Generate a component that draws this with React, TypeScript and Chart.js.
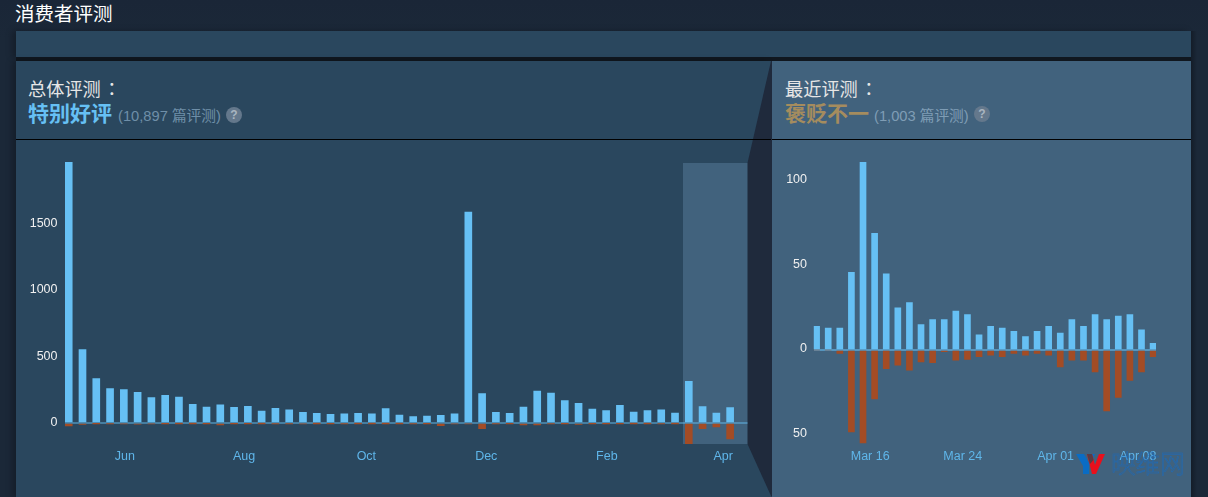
import React, { useEffect, useRef } from "react";
import { Chart, registerables } from "chart.js";

Chart.register(...registerables);

const overallUp = [1955, 550, 333, 258, 251, 230, 190, 207, 195, 140, 120, 137, 118, 125, 90, 110, 98, 80, 72, 65, 68, 72, 68, 108, 60, 48, 52, 57, 68, 1583, 220, 80, 72, 120, 240, 225, 168, 148, 105, 93, 133, 82, 93, 98, 75, 313, 123, 75, 115];
const overallDown = [22, 10, 2, 4, 6, 8, 6, 3, 1, 1, 2, 14, 3, 3, 1, 5, 5, 6, 1, 2, 5, 1, 1, 1, 1, 5, 3, 20, 6, 6, 42, 4, 2, 15, 15, 5, 2, 10, 3, 3, 3, 1, 1, 4, 1, 155, 42, 30, 120];
const overallTickValues = [4.08, 12.72, 21.6, 30.3, 39.05, 47.5];
const overallTickLabels = ["Jun", "Aug", "Oct", "Dec", "Feb", "Apr"];
const overallYTicks = [0, 500, 1000, 1500];

const recentUp = [14, 13, 13, 46, 111, 69, 45, 25, 28, 15, 18, 18, 23, 21, 9, 14, 13, 11, 8, 11, 14, 10, 18, 14, 21, 18, 20, 21, 12, 4];
const recentDown = [0, 0, 2, 48.5, 55, 29, 11, 9, 12, 7, 7.5, 1, 6, 5.5, 4, 3, 4, 2, 3, 2, 3, 10, 6, 6, 13, 36, 28, 18, 13, 4];
const recentTickValues = [4.62, 12.6, 20.6, 27.7];
const recentTickLabels = ["Mar 16", "Mar 24", "Apr 01", "Apr 08"];
const recentYTicks = [-50, 0, 50, 100];

const BLUE = "#66c0f4";
const RUST = "#a34c25";
const FONT = "'Liberation Sans', Arial, sans-serif";
const CJK = "'Liberation Sans', 'Noto Sans CJK SC', sans-serif";

type Cfg = {
  up: number[]; down: number[]; tickValues: number[]; tickLabels: string[]; yTicks: number[];
  xMin: number; xMax: number; yMin: number; yMax: number; barW: number; axisW: number;
  padRight: number; tickPad: number; labelOffset: number; zeroColor: string;
};

function makeChart(canvas: HTMLCanvasElement, c: Cfg) {
  const toPoints = (a: number[], sign: number) => a.map((v, i) => ({ x: i, y: sign * v }));
  return new Chart(canvas, {
    type: "bar",
    data: {
      datasets: [
        { data: toPoints(c.up, 1), backgroundColor: BLUE, barThickness: c.barW, grouped: false } as any,
        { data: toPoints(c.down, -1), backgroundColor: RUST, barThickness: c.barW, grouped: false } as any,
      ],
    },
    options: {
      animation: false,
      responsive: false,
      layout: { padding: { top: 22, right: c.padRight, bottom: 0, left: 0 } },
      plugins: { legend: { display: false }, tooltip: { enabled: false } },
      scales: {
        x: {
          type: "linear",
          offset: false,
          min: c.xMin,
          max: c.xMax,
          grid: { display: false, drawTicks: false },
          border: { display: false },
          afterBuildTicks: (s: any) => { s.ticks = c.tickValues.map((value) => ({ value })); },
          afterFit: (s: any) => { s.height = 53; },
          ticks: {
            autoSkip: false, maxRotation: 0, padding: 5, color: "#5fb6ea",
            font: { family: FONT, size: 12.5 },
            callback: (_v: any, i: number) => c.tickLabels[i],
          },
        },
        y: {
          min: c.yMin,
          max: c.yMax,
          border: { display: false },
          grid: {
            drawTicks: false,
            lineWidth: 2,
            color: (ctx: any) => (ctx.tick && ctx.tick.value === 0 ? c.zeroColor : "rgba(0,0,0,0)"),
          },
          afterBuildTicks: (s: any) => { s.ticks = c.yTicks.map((value) => ({ value })); },
          afterFit: (s: any) => { s.width = c.axisW; },
          ticks: {
            autoSkip: false, padding: c.tickPad, color: "#f0f0f0", labelOffset: c.labelOffset,
            font: { family: FONT, size: 12.5 },
            callback: (v: any) => String(Math.abs(Number(v))),
          },
        },
      },
    } as any,
  });
}

const abs = (l: number, t: number, w: number, h: number, bg?: string): React.CSSProperties => ({
  position: "absolute", left: l, top: t, width: w, height: h, background: bg,
});

function Txt(p: { l: number; t: number; size: number; color: string; bold?: boolean; children: React.ReactNode }) {
  return (
    <div style={{ position: "absolute", left: p.l, top: p.t, fontSize: p.size, lineHeight: "24px", height: 24, color: p.color, fontWeight: p.bold ? 700 : 400, fontFamily: CJK, whiteSpace: "nowrap" }}>
      {p.children}
    </div>
  );
}

function Help(p: { cx: number; cy: number }) {
  return (
    <div style={{ position: "absolute", left: p.cx - 8, top: p.cy - 8, width: 16, height: 16, borderRadius: 8, background: "#64788c", color: "#a9b5c0", fontSize: 12, fontWeight: 700, lineHeight: "16px", textAlign: "center", fontFamily: FONT }}>?</div>
  );
}

const colon = <span style={{ fontFamily: "'Noto Sans CJK TC'", marginLeft: 2 }}>：</span>;

export default function App() {
  const leftRef = useRef<HTMLCanvasElement>(null);
  const rightRef = useRef<HTMLCanvasElement>(null);

  useEffect(() => {
    const a = makeChart(leftRef.current!, {
      up: overallUp, down: overallDown, tickValues: overallTickValues, tickLabels: overallTickLabels, yTicks: overallYTicks,
      xMin: -0.27, xMax: 49.26, yMin: -157.5, yMax: 1958, barW: 7, axisW: 49, padRight: 23.5, tickPad: 7.5, labelOffset: 0,
      zeroColor: "rgba(102,192,244,0.45)",
    });
    const b = makeChart(rightRef.current!, {
      up: recentUp, down: recentDown, tickValues: recentTickValues, tickLabels: recentTickLabels, yTicks: recentYTicks,
      xMin: -0.25, xMax: 29.25, yMin: -55.6, yMax: 111.2, barW: 6, axisW: 41.7, padRight: 35, tickPad: 6.7, labelOffset: -1,
      zeroColor: "rgba(102,192,244,0.55)",
    });
    return () => { a.destroy(); b.destroy(); };
  }, []);

  return (
    <div style={{ ...abs(0, 0, 1208, 497, "#1b2838"), overflow: "hidden", fontFamily: CJK }}>
      <div style={abs(0, 0, 1208, 40, "linear-gradient(#1a2637,#1b2838)")} />
      <Txt l={15} t={2} size={19.5} color="#ffffff">消费者评测</Txt>

      <div style={{ ...abs(16, 31, 1175, 26, "#2a475e"), boxShadow: "-4px 0 6px rgba(0,0,0,0.25)" }} />
      <div style={abs(16, 57, 1175, 4, "#10171f")} />

      <div style={{ ...abs(16, 61, 755, 436, "#2a475e"), boxShadow: "-4px 0 6px rgba(0,0,0,0.25)" }} />
      <div style={abs(771, 61, 420, 436, "#41627d")} />
      <div style={{ ...abs(1191, 31, 6, 466), background: "linear-gradient(90deg,#131c28,#1b2838)" }} />

      <div style={abs(683, 163, 64.5, 281, "#41627d")} />
      <svg style={abs(700, 61, 80, 436)} width={80} height={436}>
        <polygon points="71,0 72,0 72,436 71.5,436 47.5,383 47.5,102" fill="#1f2a3c" />
      </svg>

      <div style={abs(16, 139, 755, 1, "#000")} />
      <div style={abs(772, 139, 419, 1, "#000")} />

      <Txt l={28} t={76} size={18.2} color="#e6e6e6">总体评测{colon}</Txt>
      <Txt l={28} t={102} size={21} color={BLUE} bold>特别好评</Txt>
      <Txt l={118} t={104} size={14.7} color="#6f8fa8">(10,897 篇评测)</Txt>
      <Help cx={234} cy={115} />

      <Txt l={785} t={76} size={18.2} color="#e6e6e6">最近评测{colon}</Txt>
      <Txt l={785} t={102} size={21} color="#a58c5e" bold>褒贬不一</Txt>
      <Txt l={874} t={104} size={14.7} color="#7f9db5">(1,003 篇评测)</Txt>
      <Help cx={982} cy={114} />

      <canvas ref={leftRef} width={755} height={357} style={{ position: "absolute", left: 16, top: 140, width: 755, height: 357 }} />
      <canvas ref={rightRef} width={419} height={357} style={{ position: "absolute", left: 772, top: 140, width: 419, height: 357 }} />

      <svg style={abs(1076, 452, 32, 24)} width={32} height={24}>
        <polygon points="0,2 8,2 13,11 15,2 19,2 13,14 13,22 7,22 7,14" fill="#0a6cc4" />
        <polygon points="11,2 16,2 19,13 23,2 29,2 20,22 16,22" fill="#e8101c" />
        <polygon points="11,2 16,2 17.5,8 14,12" fill="#5a3c44" />
      </svg>
      <div style={{ position: "absolute", left: 1111, top: 449, fontSize: 24.5, lineHeight: "28px", fontFamily: "'Noto Sans CJK SC'", color: "rgba(30,110,185,0.08)", WebkitTextStroke: "0.45px #1a6cc0", whiteSpace: "nowrap", fontWeight: 300 }}>映维网</div>
    </div>
  );
}
